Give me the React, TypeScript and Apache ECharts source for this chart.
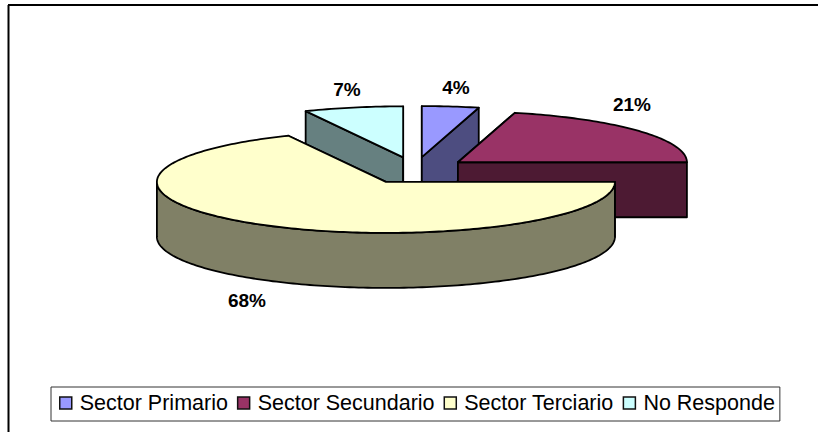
import React, { useEffect, useRef } from "react";
import * as echarts from "echarts";

const categories = ["Sector Primario", "Sector Secundario", "Sector Terciario", "No Responde"];
const values = [4, 21, 68, 7];
const topColors = ["#9999FF", "#993366", "#FFFFCC", "#CCFFFF"];
const wallColors = ["#4D4D80", "#4D1A33", "#808066", "#668080"];
const drawOrder = [3, 0, 1, 2];
const labelPositions = [[456, 87], [632, 104], [247, 300], [347, 89]];

const CX = 415;
const CY = 170.5;
const RX = 229;
const RY = 51;
const DEPTH = 55;
const EXPLODE_X = 54.3;
const EXPLODE_Y = 13.5;
const total = values.reduce((a, b) => a + b, 0);

const toRad = (share: number) => (share / total) * Math.PI * 2;
const sliceRange = (i: number) => {
  const before = values.slice(0, i).reduce((a, b) => a + b, 0);
  return [toRad(before), toRad(before + values[i])];
};

function renderSlice(i: number) {
  const [a0, a1] = sliceRange(i);
  const mid = (a0 + a1) / 2;
  const ax = CX + Math.sin(mid) * EXPLODE_X;
  const ay = CY - Math.cos(mid) * EXPLODE_Y;
  const pt = (a: number, dz = 0): number[] => [ax + Math.sin(a) * RX, ay - Math.cos(a) * RY + dz];
  const arc = (s: number, e: number, dz = 0) => {
    const n = Math.max(2, Math.ceil(Math.abs(e - s) / 0.02));
    const out: number[][] = [];
    for (let k = 0; k <= n; k++) out.push(pt(s + ((e - s) * k) / n, dz));
    return out;
  };
  const edge = { stroke: "#000", lineWidth: 1.8, lineJoin: "round" };
  const children: any[] = [];
  const wall = (a: number) => ({
    type: "polygon",
    shape: { points: [[ax, ay], pt(a), pt(a, DEPTH), [ax, ay + DEPTH]] },
    style: { fill: wallColors[i], ...edge },
  });
  children.push(wall(a0), wall(a1));
  const f0 = Math.max(a0, Math.PI / 2);
  const f1 = Math.min(a1, (Math.PI * 3) / 2);
  if (f1 > f0) {
    children.push({
      type: "polygon",
      shape: { points: [...arc(f0, f1), ...arc(f1, f0, DEPTH)] },
      style: { fill: wallColors[i], ...edge },
    });
  }
  children.push({
    type: "polygon",
    shape: { points: [[ax, ay], ...arc(a0, a1)] },
    style: { fill: topColors[i], ...edge },
  });
  children.push({
    type: "text",
    style: {
      text: `${values[i]}%`,
      x: labelPositions[i][0],
      y: labelPositions[i][1],
      align: "center",
      verticalAlign: "middle",
      font: "bold 19px 'Liberation Sans'",
      fill: "#000",
    },
  });
  return { type: "group", children };
}

export default function App() {
  const ref = useRef<HTMLDivElement>(null);
  useEffect(() => {
    document.body.style.margin = "0";
    const chart = echarts.init(ref.current!, null, { renderer: "svg" });
    chart.setOption({
      animation: false,
      backgroundColor: "#fff",
      legend: {
        data: categories,
        left: 51,
        top: 387,
        orient: "horizontal",
        icon: "rect",
        itemWidth: 12,
        itemHeight: 12,
        itemGap: 9,
        padding: [5, 5, 7, 8],
        backgroundColor: "#fff",
        borderColor: "#333",
        borderWidth: 1,
        textStyle: { fontFamily: "Liberation Sans", fontSize: 21.5, color: "#000", padding: [0, 0, 0, 3] },
        itemStyle: { borderColor: "#111", borderWidth: 1.5 },
        selectedMode: false,
      },
      series: drawOrder.map((i, order) => ({
        type: "custom",
        name: categories[i],
        coordinateSystem: "none",
        z: order + 2,
        itemStyle: { color: topColors[i] },
        data: [[values[i]]],
        renderItem: () => renderSlice(i),
      })),
      graphic: [
        { type: "line", shape: { x1: 8.5, y1: 5, x2: 8.5, y2: 432 }, style: { stroke: "#000", lineWidth: 2 } },
        { type: "line", shape: { x1: 8, y1: 5, x2: 818, y2: 5 }, style: { stroke: "#000", lineWidth: 2 } },
      ],
    });
    return () => chart.dispose();
  }, []);
  return <div ref={ref} style={{ width: 818, height: 432 }} />;
}
